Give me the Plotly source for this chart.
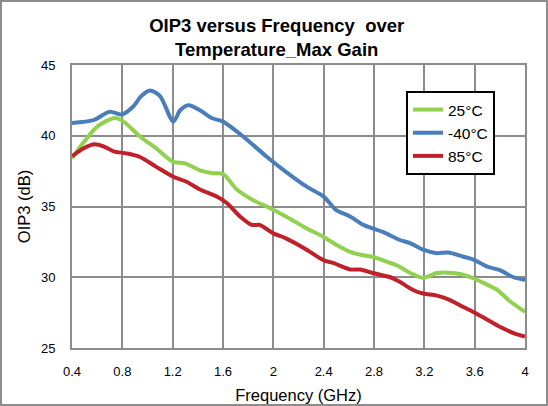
import plotly.graph_objects as go

# frequency (GHz) / OIP3 (dB)
freq_m40 = [0.4, 0.57, 0.7, 0.795, 0.885, 0.95, 1.02, 1.1, 1.205, 1.26, 1.325, 1.417, 1.51, 1.6,
            1.76, 1.95, 2.1, 2.265, 2.4, 2.5, 2.61, 2.715, 2.79, 2.87, 3.0, 3.09, 3.19, 3.3,
            3.39, 3.51, 3.59, 3.7, 3.8, 3.91, 4.0]
oip3_m40 = [40.9, 41.1, 41.7, 41.5, 42.05, 42.8, 43.2, 42.8, 41.0, 41.8, 42.15, 41.8, 41.25, 41.0,
            39.95, 38.5, 37.45, 36.4, 35.7, 34.75, 34.3, 33.7, 33.45, 33.2, 32.65, 32.4, 31.95, 31.7,
            31.75, 31.45, 31.25, 30.75, 30.5, 30.0, 29.8]

freq_25 = [0.4, 0.49, 0.6, 0.74, 0.81, 0.94, 1.07, 1.205, 1.3, 1.417, 1.52, 1.6, 1.71, 1.84,
           1.97, 2.1, 2.265, 2.4, 2.5, 2.61, 2.715, 2.79, 2.9, 2.98, 3.09, 3.19, 3.3, 3.43,
           3.54, 3.67, 3.78, 3.88, 4.0]
oip3_25 = [38.4, 39.5, 40.65, 41.25, 41.0, 39.95, 39.1, 38.15, 38.05, 37.55, 37.35, 37.3, 36.2, 35.45,
           34.9, 34.3, 33.45, 32.85, 32.3, 31.8, 31.55, 31.45, 31.1, 30.85, 30.3, 29.95, 30.3, 30.3,
           30.1, 29.6, 29.1, 28.3, 27.55]

freq_85 = [0.4, 0.49, 0.58, 0.65, 0.73, 0.835, 0.94, 1.07, 1.205, 1.31, 1.417, 1.55, 1.63, 1.735,
           1.83, 1.89, 2.0, 2.1, 2.265, 2.4, 2.48, 2.61, 2.69, 2.79, 2.93, 3.0, 3.11, 3.19,
           3.3, 3.4, 3.51, 3.59, 3.7, 3.8, 3.91, 4.0]
oip3_85 = [38.55, 39.1, 39.4, 39.25, 38.9, 38.75, 38.5, 37.8, 37.1, 36.75, 36.2, 35.7, 35.25, 34.3,
           33.7, 33.7, 33.1, 32.75, 31.95, 31.2, 31.0, 30.55, 30.55, 30.3, 30.0, 29.7, 29.1, 28.85,
           28.7, 28.4, 27.9, 27.55, 27.0, 26.5, 26.05, 25.8]

xticks = [0.4, 0.8, 1.2, 1.6, 2.0, 2.4, 2.8, 3.2, 3.6, 4.0]
xtick_text = ["0.4", "0.8", "1.2", "1.6", "2", "2.4", "2.8", "3.2", "3.6", "4"]

fig = go.Figure()
fig.add_trace(go.Scatter(x=freq_25, y=oip3_25, name="25°C", mode="lines",
                         line=dict(color="#92D050", width=4, shape="spline", smoothing=0.8)))
fig.add_trace(go.Scatter(x=freq_m40, y=oip3_m40, name="-40°C", mode="lines",
                         line=dict(color="#4A7EBB", width=4, shape="spline", smoothing=0.8)))
fig.add_trace(go.Scatter(x=freq_85, y=oip3_85, name="85°C", mode="lines",
                         line=dict(color="#C0202A", width=4, shape="spline", smoothing=0.8)))

W, H = 548, 406
ml, mr, mt, mb = 72, 23, 65, 58
pw, ph = W - ml - mr, H - mt - mb

fig.update_layout(
    width=W, height=H,
    margin=dict(l=ml, r=mr, t=mt, b=mb),
    paper_bgcolor="white", plot_bgcolor="white",
    font=dict(family="Liberation Sans, Arial", size=13, color="black"),
    title=dict(text="<b>OIP3 versus Frequency  over<br>Temperature_Max Gain</b>",
               x=0.505, xanchor="center", y=1 - 32 / H, yanchor="middle",
               font=dict(size=18.5, color="black")),
    showlegend=True,
    legend=dict(x=(406 - ml) / pw, y=1 - (91 - mt) / ph, xanchor="left", yanchor="top",
                bordercolor="black", borderwidth=2, bgcolor="white",
                font=dict(size=15.5), tracegroupgap=0, itemwidth=30),
)
fig.update_xaxes(range=[0.4, 4.0], tickvals=xticks, ticktext=xtick_text,
                 showgrid=True, gridcolor="#8C8C8C", gridwidth=2,
                 showline=True, linecolor="#8C8C8C", linewidth=2, mirror=True,
                 ticks="", zeroline=False, automargin=False, ticklabelstandoff=10,
                 title=dict(text="Frequency (GHz)", font=dict(size=16.5), standoff=12))
fig.update_yaxes(range=[25, 45], tickvals=[25, 30, 35, 40, 45],
                 showgrid=True, gridcolor="#8C8C8C", gridwidth=2,
                 showline=True, linecolor="#8C8C8C", linewidth=2, mirror=True,
                 ticks="", zeroline=False, automargin=False, ticklabelstandoff=12,
                 title=dict(text="OIP3 (dB)", font=dict(size=16.5), standoff=6))

# outer chart border
fig.add_shape(type="rect", xref="paper", yref="paper",
              x0=-(ml - 1) / pw, x1=1 + (mr - 1) / pw,
              y0=-(mb - 1) / ph, y1=1 + (mt - 1) / ph,
              line=dict(color="#8C8C8C", width=2), layer="below")

fig.write_html("out.html", config={"displayModeBar": False},
               post_script="document.body.style.margin='0';")
